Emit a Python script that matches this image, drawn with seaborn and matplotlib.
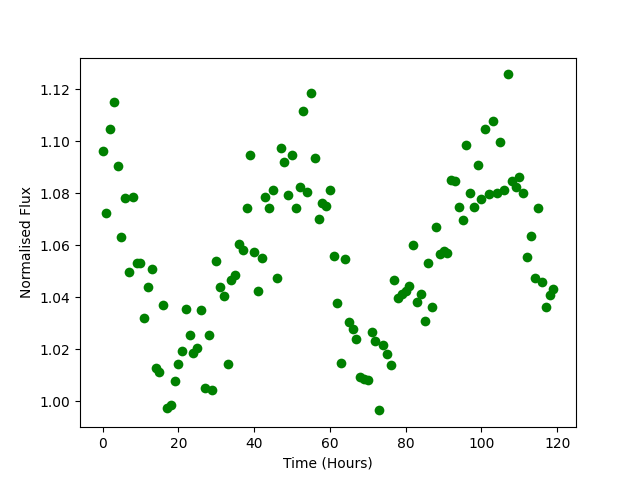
import matplotlib
matplotlib.use("Agg")
import matplotlib.pyplot as plt
import numpy as np
import seaborn as sns

# time in hours, one sample per hour
time_hours = np.arange(120)

# normalised flux
flux = [
    1.0965, 1.0723, 1.1046, 1.1150, 1.0904, 1.0631, 1.0781, 1.0496, 1.0788, 1.0531,
    1.0531, 1.0319, 1.0438, 1.0508, 1.0127, 1.0112, 1.0369, 0.9973, 0.9985, 1.0077,
    1.0142, 1.0192, 1.0354, 1.0254, 1.0185, 1.0204, 1.0350, 1.0050, 1.0254, 1.0042,
    1.0538, 1.0438, 1.0404, 1.0142, 1.0465, 1.0485, 1.0604, 1.0581, 1.0742, 1.0946,
    1.0573, 1.0423, 1.0550, 1.0785, 1.0742, 1.0812, 1.0473, 1.0973, 1.0919, 1.0792,
    1.0946, 1.0742, 1.0823, 1.1119, 1.0804, 1.1185, 1.0935, 1.0700, 1.0765, 1.0750,
    1.0815, 1.0558, 1.0377, 1.0146, 1.0546, 1.0304, 1.0277, 1.0238, 1.0092, 1.0085,
    1.0081, 1.0265, 1.0231, 0.9965, 1.0215, 1.0181, 1.0138, 1.0465, 1.0396, 1.0412,
    1.0423, 1.0442, 1.0600, 1.0381, 1.0412, 1.0308, 1.0531, 1.0362, 1.0669, 1.0565,
    1.0577, 1.0569, 1.0850, 1.0846, 1.0746, 1.0696, 1.0988, 1.0800, 1.0746, 1.0908,
    1.0777, 1.1046, 1.0796, 1.1077, 1.0800, 1.0996, 1.0812, 1.1258, 1.0846, 1.0823,
    1.0865, 1.0800, 1.0554, 1.0638, 1.0473, 1.0742, 1.0458, 1.0362, 1.0408, 1.0431,
]

fig, ax = plt.subplots(figsize=(6.4, 4.8), dpi=100)
sns.scatterplot(x=time_hours, y=flux, color='g', s=49, linewidth=0, ax=ax)

ax.set_xlabel('Time (Hours)')
ax.set_ylabel('Normalised Flux')

fig.savefig('out.png')
